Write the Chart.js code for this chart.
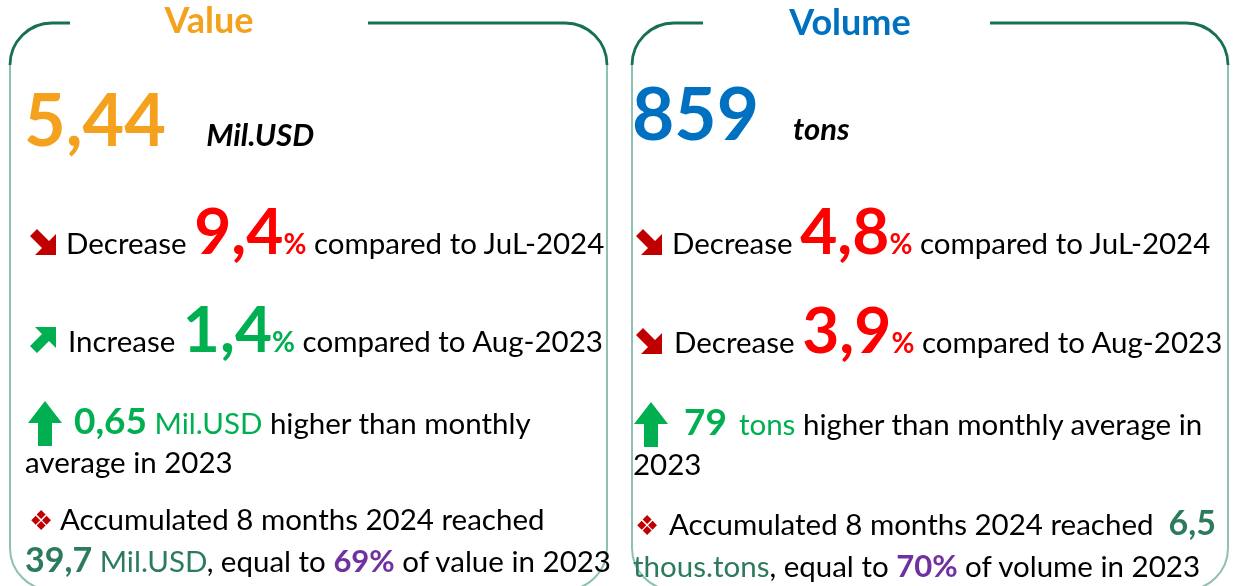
<!DOCTYPE html>
<html><head><meta charset="utf-8">
<script src="https://cdn.jsdelivr.net/npm/chart.js@4.4.1/dist/chart.umd.min.js"></script>
<style>
html,body{margin:0;padding:0;background:#fff;width:1234px;height:586px;overflow:hidden}
#wrap{position:relative;width:1234px;height:586px}
#c,#s{position:absolute;left:0;top:0}
#s text{font-family:Lato,"Open Sans",sans-serif;white-space:pre}
</style></head>
<body>
<div id="wrap"><canvas id="c" width="1234" height="586"></canvas><svg id="s" width="1234" height="586" xmlns="http://www.w3.org/2000/svg"></svg></div>
<script>
// ---- data ----
const panels = ['Value', 'Volume'];
const headline = ['5,44', '859'];
const headlineUnit = ['Mil.USD', 'tons'];
const vsJul2024 = ['9,4', '4,8'];
const vsJulDir = ['Decrease', 'Decrease'];
const vsAug2023 = ['1,4', '3,9'];
const vsAugDir = ['Increase', 'Decrease'];
const aboveAvg2023 = ['0,65', '79'];
const aboveAvgUnit = ['Mil.USD', 'tons'];
const accum8m = ['39,7', '6,5'];
const accumUnit = ['Mil.USD', 'thous.tons'];
const shareOf2023 = ['69%', '70%'];
const shareLabel = ['value', 'volume'];

// ---- layout / style ----
const titleColor = ['#F4A11E', '#0070C0'];
const frame = [
  {x: 10, w: 597, gap: [70, 368], tx: 209, ty: 33},
  {x: 632, w: 596, gap: [703, 990], tx: 850, ty: 35}
];
const frameTop = 23, frameBottom = 590, R = 42;
const RED = '#FF0000', DRED = '#C00000', GRN = '#00B050', TEAL = '#2B7B5C', PURP = '#7030A0';
const baseFS = 29.5;

// Chart.js draws the two panel frames
const framePlugin = {
  id: 'frames',
  beforeDraw(chart) {
    const ctx = chart.ctx;
    frame.forEach(f => {
      const L = f.x, Rr = f.x + f.w;
      ctx.save();
      ctx.lineWidth = 2;
      ctx.strokeStyle = '#8FC1B2';
      ctx.beginPath();
      ctx.moveTo(L, frameTop + R);
      ctx.lineTo(L, frameBottom - R);
      ctx.arcTo(L, frameBottom, L + R, frameBottom, R);
      ctx.lineTo(Rr - R, frameBottom);
      ctx.arcTo(Rr, frameBottom, Rr, frameBottom - R, R);
      ctx.lineTo(Rr, frameTop + R);
      ctx.stroke();
      ctx.lineWidth = 2.8;
      ctx.strokeStyle = '#17704F';
      ctx.beginPath();
      ctx.moveTo(L, frameTop + R);
      ctx.arcTo(L, frameTop, L + R, frameTop, R);
      ctx.lineTo(f.gap[0], frameTop);
      ctx.moveTo(f.gap[1], frameTop);
      ctx.lineTo(Rr - R, frameTop);
      ctx.arcTo(Rr, frameTop, Rr, frameTop + R, R);
      ctx.stroke();
      ctx.restore();
    });
  }
};

new Chart(document.getElementById('c'), {
  type: 'bar',
  data: {labels: panels, datasets: []},
  options: {
    responsive: false, animation: false,
    plugins: {legend: {display: false}, tooltip: {enabled: false}},
    scales: {x: {display: false}, y: {display: false}}
  },
  plugins: [framePlugin]
});

// ---- text + icons ----
function sp(s, o) {
  o = o || {};
  return `<tspan${o.dx ? ` dx="${o.dx}"` : ''} fill="${o.c || '#000'}" font-size="${o.fs || baseFS}" font-weight="${o.b ? 700 : 400}" font-style="${o.i ? 'italic' : 'normal'}">${s}</tspan>`;
}
function txt(x, y, parts, anchor) {
  return `<text x="${x}" y="${y}"${anchor ? ` text-anchor="${anchor}"` : ''}>${parts.join('')}</text>`;
}
function arrowDown(x, y) {
  return `<path transform="translate(${x},${y})" fill="${DRED}" d="M7,0 L19,12 L26,5 L26,26 L5,26 L12,19 L0,7 Z"/>`;
}
function arrowUpRight(x, y) {
  return `<path transform="translate(${x},${y + 26}) scale(1,-1)" fill="${GRN}" d="M7,0 L19,12 L26,5 L26,26 L5,26 L12,19 L0,7 Z"/>`;
}
function arrowUp(x, y) {
  return `<path transform="translate(${x},${y})" fill="${GRN}" d="M17,0 L34,22 L24,22 L24,45 L10,45 L10,22 L0,22 Z"/>`;
}
function dirIcon(d, x, y) { return d === 'Decrease' ? arrowDown(x, y) : arrowUpRight(x, y); }
function dirColor(d) { return d === 'Decrease' ? RED : GRN; }

let out = '';
panels.forEach((p, i) => {
  const f = frame[i];
  out += txt(f.tx, f.ty, [sp(p, {c: titleColor[i], fs: 36, b: 1})], 'middle');
});
// headlines
out += txt(24, 146, [sp(headline[0], {c: titleColor[0], fs: 72, b: 1}), sp(headlineUnit[0], {dx: 40, fs: 31, b: 1, i: 1})]);
out += txt(632, 140, [sp(headline[1], {c: titleColor[1], fs: 73, b: 1}), sp(headlineUnit[1], {dx: 34, fs: 31, b: 1, i: 1})]);

const rowX = [30, 636];
const ys = [
  {r1: 254, r2: 352, r3a: 434, r3b: 473, r4a: 530, r4b: 572},
  {r1: 254, r2: 353, r3a: 435, r3b: 475, r4a: 535, r4b: 577}
];
panels.forEach((p, i) => {
  const x = rowX[i], y = ys[i];
  out += dirIcon(vsJulDir[i], x, y.r1 - 25);
  out += txt(x + 36, y.r1, [sp(vsJulDir[i] + ' '), sp(vsJul2024[i], {c: dirColor(vsJulDir[i]), fs: 64, b: 1}), sp('%', {c: dirColor(vsJulDir[i]), fs: 28, b: 1}), sp(' compared to JuL-2024')]);
  out += dirIcon(vsAugDir[i], x, y.r2 - 25);
  out += txt(x + 38, y.r2, [sp(vsAugDir[i] + ' '), sp(vsAug2023[i], {c: dirColor(vsAugDir[i]), fs: 64, b: 1}), sp('%', {c: dirColor(vsAugDir[i]), fs: 28, b: 1}), sp(' compared to Aug-2023')]);
  out += arrowUp(x - 2, y.r3a - 33);
  out += `<text x="${x - 1}" y="${y.r4a}" font-family="DejaVu Sans" fill="${DRED}" font-size="27">❖</text>`;
});
// row 3 / row 4 wraps
out += txt(74, ys[0].r3a, [sp(aboveAvg2023[0], {c: GRN, fs: 37, b: 1}), sp(' ' + aboveAvgUnit[0], {c: GRN}), sp(' higher than monthly')]);
out += txt(25, ys[0].r3b, [sp('average in 2023')]);
out += txt(60, ys[0].r4a, [sp('Accumulated 8 months 2024 reached')]);
out += txt(25, ys[0].r4b, [sp(accum8m[0], {c: TEAL, fs: 34, b: 1}), sp(' ' + accumUnit[0], {c: TEAL}), sp(', equal to '), sp(shareOf2023[0], {c: PURP, fs: 31, b: 1}), sp(' of ' + shareLabel[0] + ' in 2023')]);

out += txt(684, ys[1].r3a, [sp(aboveAvg2023[1], {c: GRN, fs: 37, b: 1}), sp(aboveAvgUnit[1], {dx: 12, c: GRN}), sp(' higher than monthly average in')]);
out += txt(633, ys[1].r3b, [sp('2023')]);
out += txt(669, ys[1].r4a, [sp('Accumulated 8 months 2024 reached  '), sp(accum8m[1], {c: TEAL, fs: 34, b: 1})]);
out += txt(633, ys[1].r4b, [sp(accumUnit[1], {c: TEAL}), sp(', equal to '), sp(shareOf2023[1], {c: PURP, fs: 31, b: 1}), sp(' of ' + shareLabel[1] + ' in 2023')]);

document.getElementById('s').innerHTML = out;
</script>
</body></html>
